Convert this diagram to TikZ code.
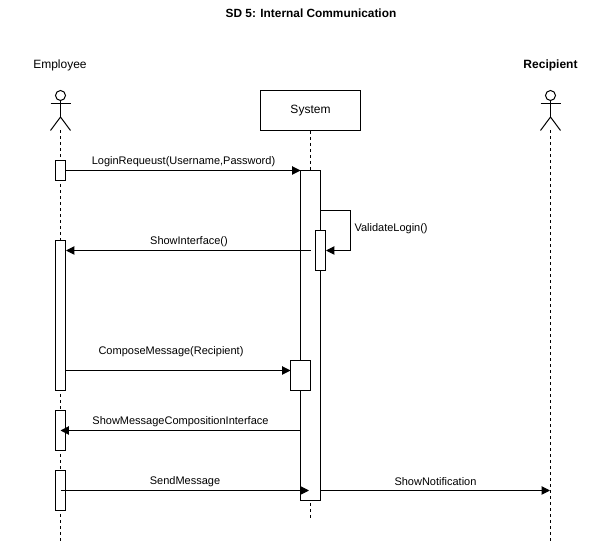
\documentclass[tikz,border=0pt]{standalone}
\usepackage{fontspec}
\setmainfont{Liberation Sans}
\usetikzlibrary{arrows.meta}
\tikzset{
  x=0.75pt,y=-0.75pt,
  every path/.style={line width=0.75pt},
  lifeline/.style={dashed,dash pattern=on 2.25pt off 2.25pt},
  actbox/.style={draw,fill=white,rectangle,inner sep=0pt,minimum width=7.5pt},
  sysbox/.style={draw,fill=white,rectangle,inner sep=0pt,minimum width=75pt,minimum height=30pt,font=\fontsize{9}{11}\selectfont},
  msg/.style={-{Triangle[length=6.2pt,width=6.2pt]}},
  lbl/.style={inner sep=0pt,font=\fontsize{8.25}{10}\selectfont},
  head/.style={draw,circle,inner sep=0pt,minimum size=7.5pt},
}
\newcommand{\actorfig}[2]{%
  \node[head] (#1head) at (#2,95.5) {};
  \coordinate (#1neck) at (#2,103.5);
  \coordinate (#1hip) at (#2,117);
  \coordinate (#1la) at (#2-10,103.5);
  \coordinate (#1ra) at (#2+10,103.5);
  \coordinate (#1ll) at (#2-10,130.5);
  \coordinate (#1rl) at (#2+10,130.5);
  \draw (#1head.south) -- (#1hip);
  \draw (#1la) -- (#1ra);
  \draw (#1ll) -- (#1hip) -- (#1rl);
}
\begin{document}
\begin{tikzpicture}
\useasboundingbox (0,0) rectangle (590,541);
% titles
\node[lbl,font=\fontsize{8.9}{10}\selectfont\bfseries] (title) at (311,13.5) {SD 5: Internal Communication};
\node[lbl,font=\fontsize{9}{11}\selectfont] (empname) at (60,65) {Employee};
\node[lbl,font=\fontsize{9}{11}\selectfont\bfseries] (recname) at (550.5,65) {Recipient};
% actors
\actorfig{e}{60.5}
\actorfig{r}{550.5}
\node[sysbox] (sys) at (310.5,110.5) {System};
% lifeline ends
\coordinate (eend) at (60.5,541);
\coordinate (send) at (310.5,518);
\coordinate (rend) at (550.5,541);
\coordinate (etop) at (60.5,130.5);
\coordinate (rtop) at (550.5,130.5);
\draw[lifeline] (etop) -- (eend);
\draw[lifeline] (sys.south) -- (send);
\draw[lifeline] (rtop) -- (rend);
% self call, beneath the nested box
\coordinate (selfa) at (320.5,210.5);
\coordinate (selfb) at (350.5,210.5);
\coordinate (selfc) at (350.5,250.5);
% activations
\node[actbox,minimum height=15pt] (e1) at (60.5,170.5) {};
\node[actbox,minimum height=112.5pt] (e2) at (60.5,315.5) {};
\node[actbox,minimum height=30pt] (e3) at (60.5,430.5) {};
\node[actbox,minimum height=30pt] (e4) at (60.5,490.5) {};
\node[actbox,minimum width=15pt,minimum height=247.5pt] (s1) at (310.5,335.5) {};
\node[actbox,minimum height=30pt] (s2) at (320.5,250.5) {};
\node[actbox,minimum width=15pt,minimum height=22.5pt] (s3) at (300.5,375.5) {};
% connector end points
\coordinate (siout) at (310.5,250.5);
\coordinate (cmy) at (65.5,370.5);
\coordinate (cmt) at (290.5,370.5);
\coordinate (ssm) at (60.5,430.5);
\coordinate (smsrc) at (300.5,430.5);
\coordinate (sendsrc) at (60.5,490.5);
\coordinate (sendtgt) at (309,490.5);
\coordinate (notifsrc) at (320.5,490.5);
\coordinate (notiftgt) at (550,490.5);
\coordinate (logintgt) at (300.5,170.5);
% messages
\draw[msg] (e1.east) -- (logintgt);
\draw[msg] (selfa) -- (selfb) -- (selfc) -- (s2.east);
\draw[msg] (siout) -- (e2.east |- siout);
\draw[msg] (cmy) -- (cmt);
\draw[msg] (smsrc) -- (ssm);
\draw[msg] (sendsrc) -- (sendtgt);
\draw[msg] (notifsrc) -- (notiftgt);
% labels
\node[lbl] (l1) at (183.5,162) {LoginRequeust(Username,Password)};
\node[lbl] (l2) at (189,242) {ShowInterface()};
\node[lbl,anchor=west] (l3) at (354,229) {ValidateLogin()};
\node[lbl] (l4) at (171,352) {ComposeMessage(Recipient)};
\node[lbl] (l5) at (180.5,422) {ShowMessageCompositionInterface};
\node[lbl] (l6) at (185,482) {SendMessage};
\node[lbl] (l7) at (435.5,482) {ShowNotification};
\end{tikzpicture}
\end{document}
